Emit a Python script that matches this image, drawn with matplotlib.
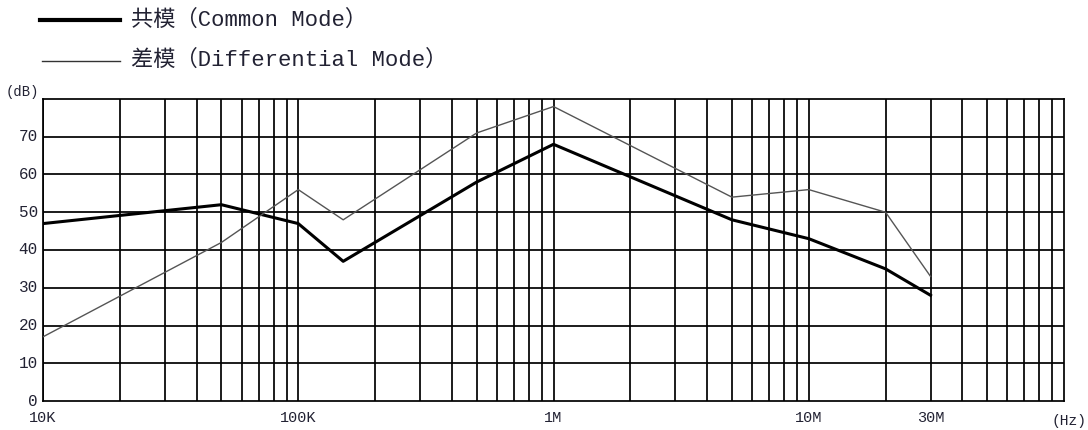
import matplotlib
matplotlib.use("Agg")
import matplotlib.pyplot as plt
from matplotlib.lines import Line2D

# Data
freq_cm = [1e4, 5e4, 1e5, 1.5e5, 5e5, 1e6, 5e6, 1e7, 2e7, 3e7]
db_cm = [47, 52, 47, 37, 58, 68, 48, 43, 35, 28]
freq_dm = [1e4, 5e4, 1e5, 1.5e5, 5e5, 1e6, 5e6, 1e7, 2e7, 3e7]
db_dm = [17, 42, 56, 48, 71, 78, 54, 56, 50, 33]
y_ticks = [0, 10, 20, 30, 40, 50, 60, 70]
x_tick_vals = [1e4, 1e5, 1e6, 1e7, 3e7]
x_tick_labels = ["10K", "100K", "1M", "10M", "30M"]
label_cm = "共模（Common Mode）"
label_dm = "差模（Differential Mode）"

fam = ["Liberation Mono", "Noto Sans CJK SC", "DejaVu Sans"]
tcol = "#222233"

fig = plt.figure(figsize=(10.88, 4.30), dpi=100)
ax = fig.add_axes([43/1088, 1-401/430, (1064-43)/1088, (401-99)/430])
ax.set_xscale("log")
ax.set_xlim(1e4, 1e8)
ax.set_ylim(0, 80)

# grid: every 1..9 per decade, every 10 dB
for dec in [1e4, 1e5, 1e6, 1e7]:
    for m in range(1, 10):
        ax.axvline(dec*m, color="black", lw=1.25, zorder=1)
for y in range(10, 80, 10):
    ax.axhline(y, color="black", lw=1.25, zorder=1)

ax.plot(freq_cm, db_cm, color="black", lw=2.2, zorder=3)
ax.plot(freq_dm, db_dm, color="#555555", lw=1.0, zorder=3)

for s in ax.spines.values():
    s.set_linewidth(1.25)
ax.set_xticks([])
ax.set_yticks([])
ax.minorticks_off()

for y in y_ticks:
    ax.text(-0.005, y, str(y), transform=ax.get_yaxis_transform(), ha="right", va="center",
            fontsize=11.5, family=fam, color=tcol)
ax.text(-0.004, 81.8, "(dB)", transform=ax.get_yaxis_transform(), ha="right", va="center",
        fontsize=10, family=fam, color=tcol)
for xv, lab in zip(x_tick_vals, x_tick_labels):
    ax.text(xv, -4.6, lab, ha="center", va="center", fontsize=11, family=fam, color=tcol,
            clip_on=False)
ax.text(1.05e8, -5.4, "(Hz)", ha="center", va="center", fontsize=10.5, family=fam,
        color=tcol, clip_on=False)

# legend outside top-left
fig.add_artist(Line2D([40/1088, 120/1088], [1-20/430, 1-20/430], color="black", lw=3.0))
fig.add_artist(Line2D([42/1088, 120/1088], [1-61/430, 1-61/430], color="#333333", lw=1.0))
fig.text(131/1088, 1-20/430, label_cm, ha="left", va="center", fontsize=16, family=fam, color=tcol)
fig.text(131/1088, 1-60/430, label_dm, ha="left", va="center", fontsize=16, family=fam, color=tcol)

fig.savefig("out.png", dpi=100)
